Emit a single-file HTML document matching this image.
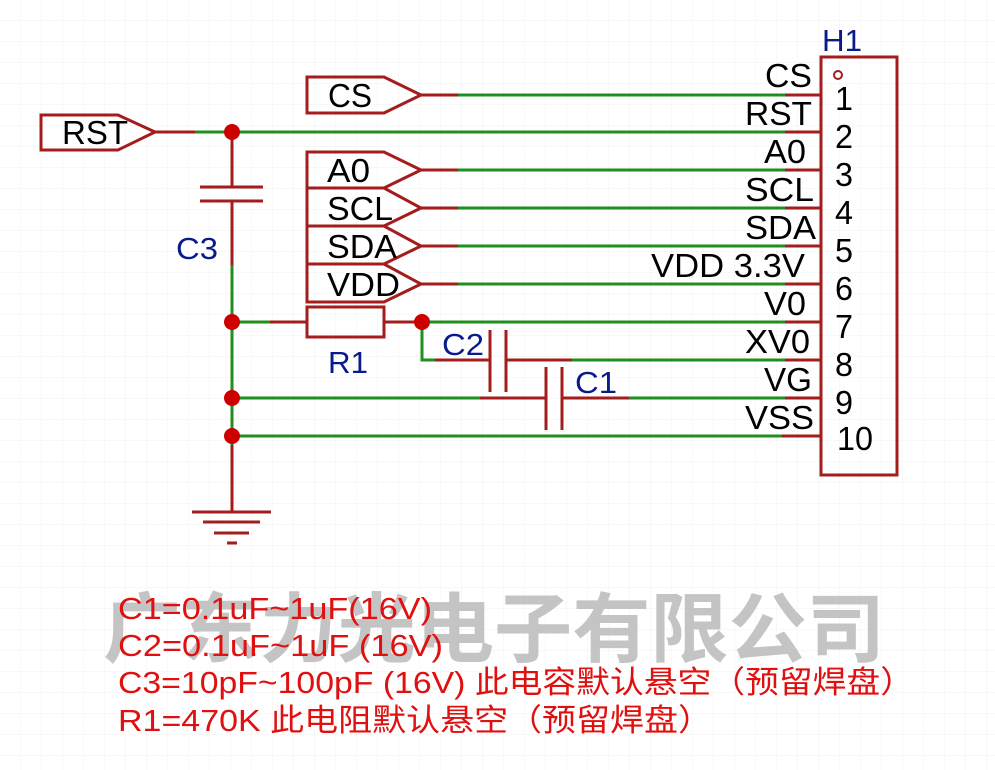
<!DOCTYPE html>
<html><head><meta charset="utf-8"><style>
html,body{margin:0;padding:0;background:#fff;}
svg{display:block;}
text{font-family:"Liberation Sans","Noto Sans CJK SC",sans-serif;}
</style></head><body>
<svg width="995" height="770" viewBox="0 0 995 770" xmlns="http://www.w3.org/2000/svg">
<defs>
<pattern id="g" width="21" height="21" patternUnits="userSpaceOnUse">
<path d="M21 0V21M0 21H21" stroke="#f0f0f0" stroke-width="1" fill="none"/>
</pattern>
</defs>
<rect width="995" height="770" fill="url(#g)"/>

<text x="103" y="656" font-size="76" font-weight="bold" fill="#c4c4c4" textLength="782" lengthAdjust="spacingAndGlyphs" font-family="'Noto Sans CJK SC',sans-serif">广东力光电子有限公司</text>

<g stroke-width="3" fill="none" stroke-linecap="butt">
<g stroke="#1f8f1f">
<line x1="458" y1="95" x2="785" y2="95"/>
<line x1="195" y1="132" x2="785" y2="132"/>
<line x1="458" y1="170" x2="785" y2="170"/>
<line x1="458" y1="208" x2="785" y2="208"/>
<line x1="458" y1="246" x2="785" y2="246"/>
<line x1="458" y1="284" x2="785" y2="284"/>
<line x1="422" y1="322" x2="785" y2="322"/>
<line x1="572" y1="360" x2="785" y2="360"/>
<line x1="629" y1="398" x2="785" y2="398"/>
<line x1="232" y1="398" x2="480" y2="398"/>
<line x1="232" y1="436" x2="782" y2="436"/>
<line x1="232" y1="265" x2="232" y2="445"/>
<line x1="232" y1="322" x2="270" y2="322"/>
<polyline points="422,322 422,360 435,360"/>
</g>
<g stroke="#a31d1d">
<line x1="785" y1="95" x2="821" y2="95"/>
<line x1="785" y1="132" x2="821" y2="132"/>
<line x1="785" y1="170" x2="821" y2="170"/>
<line x1="785" y1="208" x2="821" y2="208"/>
<line x1="785" y1="246" x2="821" y2="246"/>
<line x1="785" y1="284" x2="821" y2="284"/>
<line x1="785" y1="322" x2="821" y2="322"/>
<line x1="785" y1="360" x2="821" y2="360"/>
<line x1="785" y1="398" x2="821" y2="398"/>
<line x1="782" y1="436" x2="821" y2="436"/>
<rect x="821" y="57" width="76" height="418"/>
<line x1="421" y1="95" x2="458" y2="95"/>
<line x1="155" y1="132" x2="195" y2="132"/>
<line x1="421" y1="170" x2="458" y2="170"/>
<line x1="421" y1="208" x2="458" y2="208"/>
<line x1="421" y1="246" x2="458" y2="246"/>
<line x1="421" y1="284" x2="458" y2="284"/>
<polygon points="307,77 384,77 421,95 384,113 307,113"/>
<polygon points="41,115 118,115 155,132 118,150 41,150"/>
<polygon points="307,152 384,152 421,170 384,188 307,188"/>
<polygon points="307,188 384,188 421,208 384,226 307,226"/>
<polygon points="307,226 384,226 421,246 384,264 307,264"/>
<polygon points="307,264 384,264 421,284 384,302 307,302"/>
<line x1="232" y1="132" x2="232" y2="187"/>
<line x1="200" y1="187" x2="263" y2="187"/>
<line x1="200" y1="201" x2="263" y2="201"/>
<line x1="232" y1="201" x2="232" y2="265"/>
<line x1="232" y1="445" x2="232" y2="512"/>
<line x1="192" y1="512" x2="271" y2="512"/>
<line x1="203" y1="522" x2="260" y2="522"/>
<line x1="214" y1="533" x2="249" y2="533"/>
<line x1="227" y1="543" x2="237" y2="543"/>
<line x1="270" y1="322" x2="307" y2="322"/>
<rect x="307" y="307" width="77" height="30"/>
<line x1="384" y1="322" x2="422" y2="322"/>
<line x1="435" y1="360" x2="490" y2="360"/>
<line x1="490" y1="330" x2="490" y2="392"/>
<line x1="506" y1="330" x2="506" y2="392"/>
<line x1="506" y1="360" x2="572" y2="360"/>
<line x1="480" y1="398" x2="546" y2="398"/>
<line x1="546" y1="367" x2="546" y2="430"/>
<line x1="562" y1="367" x2="562" y2="430"/>
<line x1="562" y1="398" x2="629" y2="398"/>
</g>
</g>
<circle cx="838" cy="75" r="4" fill="none" stroke="#a31d1d" stroke-width="2"/>
<g fill="#cc0000">
<circle cx="232" cy="132" r="8"/>
<circle cx="232" cy="322" r="8"/>
<circle cx="422" cy="322" r="8"/>
<circle cx="232" cy="398" r="8"/>
<circle cx="232" cy="436" r="8"/>
</g>

<g font-size="33" fill="#000">
<text x="328" y="107" textLength="44" lengthAdjust="spacingAndGlyphs">CS</text>
<text x="62" y="144" textLength="66" lengthAdjust="spacingAndGlyphs">RST</text>
<text x="327" y="182" textLength="43" lengthAdjust="spacingAndGlyphs">A0</text>
<text x="327" y="220" textLength="66" lengthAdjust="spacingAndGlyphs">SCL</text>
<text x="327" y="258" textLength="70" lengthAdjust="spacingAndGlyphs">SDA</text>
<text x="327" y="296" textLength="73" lengthAdjust="spacingAndGlyphs">VDD</text>
<text x="765" y="87" textLength="47" lengthAdjust="spacingAndGlyphs">CS</text>
<text x="745" y="125" textLength="67" lengthAdjust="spacingAndGlyphs">RST</text>
<text x="764" y="163" textLength="42" lengthAdjust="spacingAndGlyphs">A0</text>
<text x="745" y="201" textLength="69" lengthAdjust="spacingAndGlyphs">SCL</text>
<text x="745" y="239" textLength="71" lengthAdjust="spacingAndGlyphs">SDA</text>
<text x="651" y="277" textLength="154" lengthAdjust="spacingAndGlyphs">VDD 3.3V</text>
<text x="764" y="315" textLength="42" lengthAdjust="spacingAndGlyphs">V0</text>
<text x="745" y="353" textLength="65" lengthAdjust="spacingAndGlyphs">XV0</text>
<text x="764" y="391" textLength="48" lengthAdjust="spacingAndGlyphs">VG</text>
<text x="745" y="429" textLength="69" lengthAdjust="spacingAndGlyphs">VSS</text>
<text x="835" y="110" textLength="18" lengthAdjust="spacingAndGlyphs">1</text>
<text x="835" y="148" textLength="18" lengthAdjust="spacingAndGlyphs">2</text>
<text x="835" y="186" textLength="18" lengthAdjust="spacingAndGlyphs">3</text>
<text x="835" y="224" textLength="18" lengthAdjust="spacingAndGlyphs">4</text>
<text x="835" y="262" textLength="18" lengthAdjust="spacingAndGlyphs">5</text>
<text x="835" y="300" textLength="18" lengthAdjust="spacingAndGlyphs">6</text>
<text x="835" y="338" textLength="18" lengthAdjust="spacingAndGlyphs">7</text>
<text x="835" y="376" textLength="18" lengthAdjust="spacingAndGlyphs">8</text>
<text x="835" y="414" textLength="18" lengthAdjust="spacingAndGlyphs">9</text>
<text x="837" y="450" textLength="36" lengthAdjust="spacingAndGlyphs">10</text>
</g>
<g font-size="31" fill="#0a1a8c">
<text x="822" y="51" textLength="40" lengthAdjust="spacingAndGlyphs">H1</text>
<text x="176" y="259" textLength="42" lengthAdjust="spacingAndGlyphs">C3</text>
<text x="328" y="373" textLength="40" lengthAdjust="spacingAndGlyphs">R1</text>
<text x="442" y="355" textLength="42" lengthAdjust="spacingAndGlyphs">C2</text>
<text x="575" y="393" textLength="42" lengthAdjust="spacingAndGlyphs">C1</text>
</g>
<g font-size="31" fill="#e01010">
<text x="118" y="619" textLength="314" lengthAdjust="spacingAndGlyphs">C1=0.1uF~1uF(16V)</text>
<text x="118" y="656" textLength="325" lengthAdjust="spacingAndGlyphs">C2=0.1uF~1uF (16V)</text>
<text x="118" y="693" textLength="796" lengthAdjust="spacingAndGlyphs">C3=10pF~100pF (16V) 此电容默认悬空（预留焊盘）</text>
<text x="118" y="731" textLength="594" lengthAdjust="spacingAndGlyphs">R1=470K  此电阻默认悬空（预留焊盘）</text>
</g>
</svg>
</body></html>
